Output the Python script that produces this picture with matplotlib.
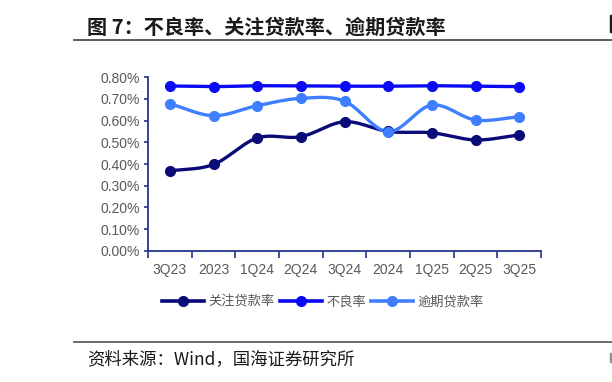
import numpy as np
import matplotlib
matplotlib.use("Agg")
import matplotlib.pyplot as plt
from matplotlib.lines import Line2D
from matplotlib.patches import Rectangle

categories = ["3Q23", "2023", "1Q24", "2Q24", "3Q24", "2024", "1Q25", "2Q25", "3Q25"]
guanzhu = [0.368, 0.398, 0.520, 0.526, 0.595, 0.550, 0.544, 0.511, 0.534]   # 关注贷款率 (%)
buliang = [0.760, 0.757, 0.761, 0.760, 0.759, 0.759, 0.761, 0.759, 0.757]   # 不良率 (%)
yuqi = [0.678, 0.623, 0.669, 0.703, 0.690, 0.549, 0.672, 0.603, 0.618]      # 逾期贷款率 (%)
series_names = ["关注贷款率", "不良率", "逾期贷款率"]
yticks = [0.0, 0.1, 0.2, 0.3, 0.4, 0.5, 0.6, 0.7, 0.8]

colors = ["#0a0a78", "#0a0af5", "#3f7fff"]
CJK = ["Noto Sans CJK SC", "DejaVu Sans"]


def smooth(x, y, n=24):
    x = np.asarray(x, float)
    y = np.asarray(y, float)
    px = np.concatenate([[2 * x[0] - x[1]], x, [2 * x[-1] - x[-2]]])
    py = np.concatenate([[2 * y[0] - y[1]], y, [2 * y[-1] - y[-2]]])
    xs, ys = [], []
    t = np.linspace(0, 1, n, endpoint=False)
    for i in range(1, len(px) - 2):
        p0, p1, p2, p3 = py[i - 1], py[i], py[i + 1], py[i + 2]
        q0, q1, q2, q3 = px[i - 1], px[i], px[i + 1], px[i + 2]
        for arr, a0, a1, a2, a3 in ((ys, p0, p1, p2, p3), (xs, q0, q1, q2, q3)):
            arr.extend(0.5 * ((2 * a1) + (-a0 + a2) * t + (2 * a0 - 5 * a1 + 4 * a2 - a3) * t ** 2
                              + (-a0 + 3 * a1 - 3 * a2 + a3) * t ** 3))
    xs.append(x[-1])
    ys.append(y[-1])
    return np.array(xs), np.array(ys)


fig = plt.figure(figsize=(6.12, 3.82), dpi=100)
ax = fig.add_axes([148 / 612, 1 - 250.7 / 382, (541 - 148) / 612, (250.7 - 77.3) / 382])

x = np.arange(len(categories))
for vals, c in zip([guanzhu, buliang, yuqi], colors):
    sx, sy = smooth(x, vals)
    ax.plot(sx, sy, color=c, lw=2.4, solid_capstyle="round", zorder=3)
    ax.plot(x, vals, ls="none", marker="o", ms=7, color=c, zorder=4)

ax.set_xlim(-0.5, len(categories) - 0.5)
ax.set_ylim(0, 0.8)
ax.set_yticks(yticks)
ax.set_yticklabels([f"{v:.2f}%" for v in yticks])
ax.set_xticks(x)
ax.set_xticklabels(categories)
ax.set_xticks(np.arange(-0.5, len(categories)), minor=True)
ax.tick_params(axis="x", which="major", length=0, pad=9, labelsize=10, labelcolor="#595959")
ax.tick_params(axis="x", which="minor", length=5, width=1.2, color="#25358a")
ax.tick_params(axis="y", length=3, width=1.2, color="#25358a", labelsize=10, labelcolor="#595959", pad=3)
for lab in ax.get_xticklabels() + ax.get_yticklabels():
    lab.set_fontfamily("Liberation Sans")
for s in ["top", "right"]:
    ax.spines[s].set_visible(False)
for s in ["left", "bottom"]:
    ax.spines[s].set_color("#25358a")
    ax.spines[s].set_linewidth(1.3)

handles = [Line2D([], [], color=c, lw=2.6, marker="o", ms=7) for c in colors]
leg = fig.legend(handles, series_names, loc="center", bbox_to_anchor=(323 / 612, 1 - 302 / 382),
                 ncol=3, frameon=False, handlelength=3.2, handletextpad=0.35, columnspacing=0.35,
                 prop={"family": CJK, "size": 9.5})
for t in leg.get_texts():
    t.set_color("#595959")

# header / footer
fig.text(87 / 612, 1 - 27 / 382, "图 7：不良率、关注贷款率、逾期贷款率", family=CJK, fontsize=14.5,
         fontweight="bold", color="#1a1a1a", va="center", ha="left")
# partial edge glyph fragments of neighbouring page content
fig.add_artist(Rectangle((609.5 / 612, 1 - 32 / 382), 2.5 / 612, 17 / 382, color="#1a1a1a",
                         transform=fig.transFigure))
fig.add_artist(Rectangle((610 / 612, 1 - 362 / 382), 2 / 612, 9 / 382, color="#909090",
                         transform=fig.transFigure))
fig.add_artist(Line2D([74 / 612, 1], [1 - 40 / 382] * 2, color="#505050", lw=1.3))
fig.add_artist(Line2D([74 / 612, 1], [1 - 342 / 382] * 2, color="#606060", lw=1.3))
fig.text(87 / 612, 1 - 359 / 382, "资料来源：Wind，国海证券研究所", family=CJK, fontsize=12.5,
         color="#1a1a1a", va="center", ha="left")

fig.savefig("out.png", dpi=100)
